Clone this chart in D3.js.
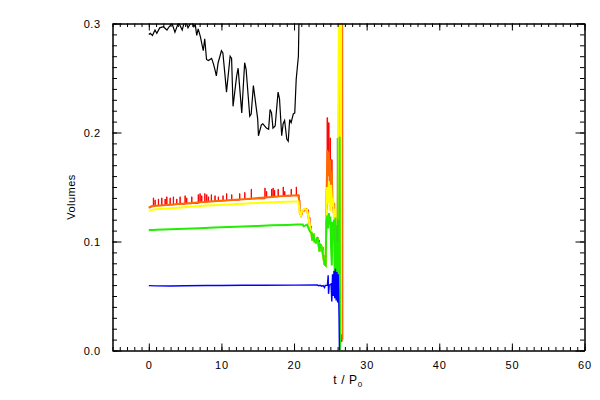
<!DOCTYPE html>
<html>
<head>
<meta charset="utf-8">
<script src="https://cdn.jsdelivr.net/npm/d3@7"></script>
<style>
  html, body { margin: 0; padding: 0; background: #fff; }
  svg { display: block; }
  text { font-family: "Liberation Sans", Arial, sans-serif; fill: #000; }
</style>
</head>
<body>
<svg id="chart" width="600" height="400"></svg>
<script>
// ---- data (t / P0, volume) ----
const xTickLabels = [0, 10, 20, 30, 40, 50, 60];
const yTickLabels = [0.0, 0.1, 0.2, 0.3];

const blackData = [
  [0,0.290],[0.2,0.291],[0.5,0.289],[0.85,0.294],[1.1,0.291],[1.5,0.296],[2.0,0.297],[2.5,0.294],
  [2.8,0.297],[3.2,0.300],[3.6,0.292],[4.1,0.301],[4.6,0.294],[5.0,0.304],[5.4,0.296],[5.9,0.302],
  [6.2,0.297],[6.4,0.299],[6.6,0.289],[6.8,0.295],[7.1,0.288],[7.5,0.275],[7.7,0.286],[7.95,0.267],
  [8.2,0.266],[8.65,0.268],[8.9,0.263],[9.1,0.258],[9.3,0.252],[9.55,0.264],[10.0,0.275],[10.2,0.273],
  [10.5,0.252],[10.7,0.237],[11.2,0.270],[11.4,0.268],[11.6,0.224],[12.1,0.252],[12.3,0.259],[12.8,0.218],
  [13.2,0.264],[13.4,0.258],[13.9,0.215],[14.1,0.217],[14.4,0.243],[15.0,0.212],[15.1,0.197],[15.5,0.207],
  [15.7,0.208],[16.2,0.204],[16.5,0.203],[16.7,0.221],[16.9,0.218],[17.1,0.204],[17.4,0.206],[17.8,0.237],
  [18.0,0.231],[18.3,0.197],[18.5,0.208],[18.7,0.211],[19.0,0.194],[19.2,0.192],[19.4,0.212],[19.6,0.209],
  [19.9,0.217],[20.1,0.218],[20.3,0.249],[20.6,0.270],[20.7,0.310],[21.0,0.350]
];

const redData = [
  [0,0.131],[0.3,0.1325],
  [0.62,0.140],[0.66,0.1327],[0.85,0.138],[0.89,0.1328],[1.31,0.139],[1.35,0.1330],
  [1.77,0.140],[1.81,0.1332],[2.23,0.139],[2.27,0.1334],[2.46,0.141],[2.50,0.1335],
  [2.92,0.140],[2.96,0.1337],[3.37,0.141],[3.41,0.1339],[3.83,0.139],[3.87,0.1341],
  [4.29,0.141],[4.33,0.1343],[4.98,0.142],[5.02,0.1346],[5.20,0.140],[5.24,0.1347],
  [5.90,0.141],[5.94,0.1350],[6.80,0.143],[6.84,0.1356],[7.04,0.144],[7.08,0.1358],
  [7.27,0.142],[7.31,0.1360],[7.70,0.144],[7.74,0.1362],[7.96,0.143],[8.00,0.1364],
  [8.20,0.141],[8.24,0.1366],[8.60,0.143],[8.64,0.1368],[9.10,0.142],[9.14,0.1370],
  [9.56,0.141],[9.60,0.1372],[10.2,0.142],[10.24,0.1375],[10.7,0.144],[10.74,0.1377],
  [11.4,0.143],[11.44,0.1380],[12.5,0.144],[12.54,0.1385],[13.2,0.145],[13.24,0.1388],
  [14.1,0.148],[14.14,0.1392],[15.98,0.149],[16.02,0.1403],[16.2,0.146],[16.24,0.1404],
  [16.9,0.148],[16.94,0.1408],[17.1,0.149],[17.14,0.1410],[17.3,0.147],[17.34,0.1412],
  [17.8,0.148],[17.84,0.1414],[18.5,0.150],[18.54,0.1417],[18.7,0.146],[18.74,0.1418],
  [19.6,0.148],[19.64,0.1422],[20.3,0.150],[20.34,0.1425],
  [20.6,0.1425],[20.7,0.138],[20.8,0.126],[20.95,0.124],[21.1,0.128],[21.5,0.130],[21.8,0.129],
  [22.0,0.122],[22.2,0.114],[22.4,0.108],[22.5,0.101],[22.7,0.107],[22.8,0.100],[23.0,0.099],
  [23.2,0.104],[23.3,0.101],[23.5,0.091],[23.6,0.097],[23.8,0.095],[24.0,0.087],[24.2,0.079],
  [24.35,0.078],[24.45,0.130],[24.55,0.2136],[24.62,0.170],[24.75,0.209],[24.82,0.165],
  [24.95,0.195],[25.02,0.150],[25.15,0.175],[25.25,0.135],[25.6,0.120],
  [26.48,0.500],[26.56,0.008],[26.6,0.500]
];

const orangeData = [
  [0,0.131],[0.3,0.1322],[1,0.1328],[2,0.1333],[3,0.1338],[4,0.1343],[5,0.1348],[6,0.1353],
  [7,0.1359],[8,0.1364],[9,0.1369],[10,0.1374],[11,0.1379],[12,0.1383],[13,0.1388],[14,0.1393],
  [15,0.1398],[16,0.1403],[17,0.1409],[18,0.1414],[19,0.1419],[20,0.1423],[20.6,0.1425],
  [20.7,0.138],[20.8,0.126],[20.95,0.124],[21.1,0.128],[21.5,0.130],[21.8,0.129],[22.0,0.122],
  [22.2,0.114],[22.4,0.108],[22.5,0.101],[22.7,0.107],[22.8,0.100],[23.0,0.099],[23.2,0.104],
  [23.3,0.101],[23.5,0.091],[23.6,0.097],[23.8,0.095],[24.0,0.087],[24.2,0.079],[24.35,0.078],
  [24.5,0.150],[24.6,0.184],[24.7,0.160],[24.8,0.182],[24.9,0.155],[25.0,0.175],[25.1,0.140],
  [25.2,0.165],[25.3,0.135],[25.5,0.125],[26.0,0.110],[26.62,0.500],[26.66,0.010]
];

const yellowData = [
  [0,0.128],[0.3,0.1288],[1,0.1295],[2,0.1300],[3,0.1305],[4,0.1310],[5,0.1315],[6,0.1320],
  [7,0.1325],[8,0.1330],[9,0.1333],[10,0.1337],[11,0.1340],[12,0.1343],[13,0.1347],[14,0.1350],
  [15,0.1353],[16,0.1357],[17,0.1360],[18,0.1362],[19,0.1365],[20,0.1368],[20.6,0.1368],
  [20.8,0.126],[20.95,0.124],[21.1,0.128],[21.5,0.130],[21.8,0.129],[22.0,0.122],[22.2,0.114],
  [22.4,0.108],[22.5,0.101],[22.7,0.107],[22.8,0.100],[23.0,0.099],[23.2,0.104],[23.3,0.101],
  [23.5,0.091],[23.6,0.097],[23.8,0.095],[24.0,0.087],[24.2,0.079],[24.35,0.078],[24.45,0.118],
  [24.55,0.150],[24.7,0.135],[24.8,0.155],[24.95,0.128],[25.1,0.152],[25.25,0.132],[25.4,0.140],
  [25.5,0.120],[25.7,0.130],[26.0,0.110],[26.35,0.500],[26.45,0.015],[26.5,0.500]
];

const greenData = [
  [0,0.1105],[0.5,0.1105],[1,0.1108],[3,0.1112],[5,0.1118],[7,0.1122],[9,0.1128],[11,0.1133],
  [13,0.1138],[15,0.1143],[17,0.1148],[19,0.1152],[20.5,0.1155],[21.2,0.1155],[21.3,0.1140],
  [21.5,0.1145],[21.8,0.1155],[22.0,0.1120],[22.2,0.1090],[22.4,0.1080],[22.5,0.1010],[22.7,0.1070],
  [22.8,0.1000],[23.0,0.0990],[23.2,0.1040],[23.3,0.1010],[23.5,0.0910],[23.6,0.0970],[23.8,0.0950],
  [24.0,0.0870],[24.2,0.0790],[24.35,0.0780],[24.45,0.1180],[24.6,0.1240],[24.7,0.1120],[24.8,0.1260],
  [24.9,0.1160],[25.0,0.1230],[25.1,0.0950],[25.2,0.0780],[25.3,0.1180],[25.4,0.1050],[25.5,0.1200],
  [25.6,0.0700],[25.7,0.1220],[25.8,0.0600],[25.9,0.1150],[26.0,0.0550],[26.1,0.1200],[26.2,0.0500],
  [26.28,0.1960],[26.33,0.0]
];

const grayData = [[25.95,0.195],[25.95,0.100]];

const blueData = [
  [0,0.0595],[1,0.0593],[3,0.0592],[5,0.0594],[8,0.0596],[10,0.0597],[13,0.0598],[16,0.0599],
  [20,0.0600],[23.2,0.0601],[23.4,0.0595],[23.6,0.0598],[23.8,0.0590],[24.0,0.0596],[24.2,0.0578],
  [24.3,0.0598],[24.6,0.0600],[24.7,0.0690],[24.75,0.0520],[24.85,0.0600],[25.1,0.0610],[25.2,0.0450],
  [25.3,0.0700],[25.4,0.0500],[25.5,0.0730],[25.6,0.0480],[25.7,0.0750],[25.8,0.0460],[25.9,0.0720],
  [26.0,0.0440],[26.1,0.0700],[26.2,0.0300],[26.25,0.0]
];

// ---- layout ----
const svg = d3.select("#chart");
const L = 112.5, R = 584.5, T = 23.5, B = 350.5;
const x = d3.scaleLinear().domain([-5, 60]).range([L, R]);
const y = d3.scaleLinear().domain([0, 0.3]).range([B, T]);

svg.append("defs").append("clipPath").attr("id", "clip")
  .append("rect").attr("x", L).attr("y", T).attr("width", R - L).attr("height", B - T);

const plot = svg.append("g").attr("clip-path", "url(#clip)");

const line = d3.line().x(d => x(d[0])).y(d => y(d[1]));
const stepLine = d3.line().x(d => x(d[0])).y(d => y(d[1])).curve(d3.curveStepAfter);

function draw(data, color, gen, w) {
  plot.append("path").datum(data)
    .attr("d", gen)
    .attr("fill", "none")
    .attr("stroke", color)
    .attr("stroke-width", w)
    .attr("stroke-linejoin", "miter");
}
draw(blackData, "#000000", line, 1.2);
draw(redData, "#ff0000", stepLine, 1);
draw(orangeData, "#ff6a00", line, 2);
draw(yellowData, "#ffff00", line, 2);
draw(greenData, "#22ee00", line, 2);
draw(grayData, "#8a8a8a", line, 1);
draw(blueData, "#0000ff", line, 1.4);

// ---- axes ----
const minorX = d3.range(-5, 61, 1);
const minorY = d3.range(0, 31, 1).map(v => v / 100);

function styleAxis(g) {
  g.selectAll("path.domain").attr("stroke", "#000");
  g.selectAll(".tick line").attr("stroke", "#000");
  g.selectAll("text").attr("font-size", 11).attr("font-family", '"Liberation Sans", Arial, sans-serif')
    .attr("fill", "#000");
}

// bottom
svg.append("g").attr("transform", `translate(0,${B})`)
  .call(d3.axisBottom(x).tickValues(minorX).tickSizeInner(-3.5).tickSizeOuter(0).tickFormat(""))
  .call(styleAxis);
svg.append("g").attr("transform", `translate(0,${B})`)
  .call(d3.axisBottom(x).tickValues(xTickLabels).tickSizeInner(-7).tickSizeOuter(0).tickPadding(11)
    .tickFormat(d3.format("d")))
  .call(styleAxis)
  .call(g => g.selectAll("text").attr("letter-spacing", "0.8px"));
// top
svg.append("g").attr("transform", `translate(0,${T})`)
  .call(d3.axisTop(x).tickValues(minorX).tickSizeInner(-3.5).tickSizeOuter(0).tickFormat(""))
  .call(styleAxis);
svg.append("g").attr("transform", `translate(0,${T})`)
  .call(d3.axisTop(x).tickValues(xTickLabels).tickSizeInner(-7).tickSizeOuter(0).tickFormat(""))
  .call(styleAxis);
// left
svg.append("g").attr("transform", `translate(${L},0)`)
  .call(d3.axisLeft(y).tickValues(minorY).tickSizeInner(-4.5).tickSizeOuter(0).tickFormat(""))
  .call(styleAxis);
svg.append("g").attr("transform", `translate(${L},0)`)
  .call(d3.axisLeft(y).tickValues(yTickLabels).tickSizeInner(-9).tickSizeOuter(0).tickPadding(12)
    .tickFormat(d3.format(".1f")))
  .call(styleAxis)
  .call(g => g.selectAll("text").attr("letter-spacing", "0.5px"));
// right
svg.append("g").attr("transform", `translate(${R},0)`)
  .call(d3.axisRight(y).tickValues(minorY).tickSizeInner(-4.5).tickSizeOuter(0).tickFormat(""))
  .call(styleAxis);
svg.append("g").attr("transform", `translate(${R},0)`)
  .call(d3.axisRight(y).tickValues(yTickLabels).tickSizeInner(-9).tickSizeOuter(0).tickFormat(""))
  .call(styleAxis);

// ---- titles ----
const xt = svg.append("text").attr("x", 348).attr("y", 384)
  .attr("text-anchor", "middle").attr("font-size", 12).attr("letter-spacing", "0.6px");
xt.append("tspan").text("t / P");
xt.append("tspan").attr("dy", 3).attr("font-size", 8).text("0");

svg.append("text")
  .attr("transform", "translate(75,197) rotate(-90)")
  .attr("text-anchor", "middle").attr("font-size", 11).attr("letter-spacing", "0.5px")
  .text("Volumes");
</script>
</body>
</html>
